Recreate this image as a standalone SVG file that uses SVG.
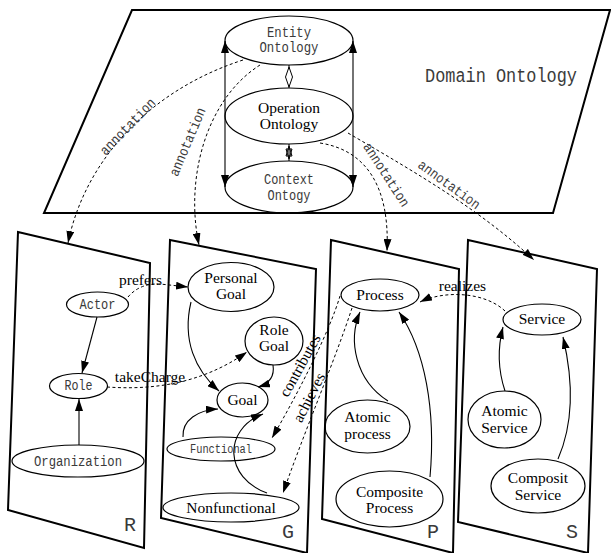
<svg xmlns="http://www.w3.org/2000/svg" width="611" height="553" viewBox="0 0 611 553">
<style>
.pl{fill:none;stroke:#000;stroke-width:2}
.n{fill:none;stroke:#000;stroke-width:1.2}
.e{fill:none;stroke:#000;stroke-width:1.1}
.d{fill:none;stroke:#000;stroke-width:1;stroke-dasharray:3,2.5}
.m{font-family:"Liberation Mono",monospace;fill:#3a3a3a;text-anchor:middle}
.t{font-family:"Liberation Serif","Times New Roman",serif;fill:#000;font-size:15.5px;text-anchor:middle}
</style>
<defs>
<marker id="ah" viewBox="0 0 12 8" refX="12" refY="4" markerWidth="12" markerHeight="8" markerUnits="userSpaceOnUse" orient="auto-start-reverse"><path d="M0,0L12,4L0,8z" fill="#000"/></marker>
</defs>

<g id="panels">
<polygon class="pl" points="132,10 610,10 553,213 44,213"/>
<polygon class="pl" points="18,232 150,263 144,548 8,510"/>
<polygon class="pl" points="170,240 316,269 307,553 161,518"/>
<polygon class="pl" points="331,240 459,269 453,553 322,519"/>
<polygon class="pl" points="468,240 597,269 588,553 458,522"/>
<text class="m" x="425" y="82" font-size="20" textLength="152" lengthAdjust="spacingAndGlyphs" style="text-anchor:start">Domain Ontology</text>
<text class="m" x="130" y="531" font-size="20">R</text>
<text class="m" x="288" y="538" font-size="20">G</text>
<text class="m" x="433" y="538" font-size="20">P</text>
<text class="m" x="572" y="538" font-size="20">S</text>
</g>

<g id="entity">
<ellipse class="n" cx="289" cy="40.5" rx="64" ry="24.5"/>
<text class="m" x="289" y="37" font-size="14" textLength="44" lengthAdjust="spacingAndGlyphs">Entity</text>
<text class="m" x="289" y="52" font-size="14" textLength="59" lengthAdjust="spacingAndGlyphs">Ontology</text>
</g>
<g id="operation">
<ellipse class="n" cx="289" cy="116" rx="64" ry="28"/>
<text class="t" x="289" y="113">Operation</text>
<text class="t" x="289" y="129">Ontology</text>
</g>
<g id="context">
<ellipse class="n" cx="289" cy="187" rx="64" ry="26"/>
<text class="m" x="289" y="184" font-size="14" textLength="50" lengthAdjust="spacingAndGlyphs">Context</text>
<text class="m" x="289" y="200" font-size="14" textLength="43" lengthAdjust="spacingAndGlyphs">Ontogy</text>
</g>

<g id="actor">
<ellipse class="n" cx="97.5" cy="304.5" rx="31" ry="12.5"/>
<text class="m" x="97.5" y="308.5" font-size="14" textLength="36" lengthAdjust="spacingAndGlyphs">Actor</text>
</g>
<g id="role">
<ellipse class="n" cx="78.5" cy="386" rx="29" ry="12.5"/>
<text class="m" x="78.5" y="390" font-size="14" textLength="28" lengthAdjust="spacingAndGlyphs">Role</text>
</g>
<g id="organization">
<ellipse class="n" cx="78" cy="461" rx="66" ry="16"/>
<text class="m" x="78" y="465.5" font-size="14" textLength="88" lengthAdjust="spacingAndGlyphs">Organization</text>
</g>

<g id="personalgoal">
<ellipse class="n" cx="231" cy="287" rx="43" ry="24.5"/>
<text class="t" x="231" y="283">Personal</text>
<text class="t" x="231" y="299">Goal</text>
</g>
<g id="rolegoal">
<ellipse class="n" cx="274" cy="341" rx="29" ry="24"/>
<text class="t" x="274" y="335">Role</text>
<text class="t" x="274" y="351">Goal</text>
</g>
<g id="goal">
<ellipse class="n" cx="242.5" cy="400" rx="25.5" ry="17"/>
<text class="t" x="242.5" y="405">Goal</text>
</g>
<g id="functional">
<ellipse class="n" cx="221" cy="449" rx="54" ry="12"/>
<text class="m" x="221" y="453" font-size="12" textLength="62" lengthAdjust="spacingAndGlyphs">Functional</text>
</g>
<g id="nonfunctional">
<ellipse class="n" cx="231" cy="507.5" rx="68" ry="14.5"/>
<text class="t" x="231" y="512.5">Nonfunctional</text>
</g>

<g id="process">
<ellipse class="n" cx="380" cy="295" rx="39" ry="16"/>
<text class="t" x="380" y="300">Process</text>
</g>
<g id="atomicprocess">
<ellipse class="n" cx="367.5" cy="426.5" rx="42.5" ry="26.5"/>
<text class="t" x="367.5" y="422">Atomic</text>
<text class="t" x="367.5" y="439">process</text>
</g>
<g id="compositeprocess">
<ellipse class="n" cx="389.5" cy="499" rx="53.5" ry="28"/>
<text class="t" x="389.5" y="497">Composite</text>
<text class="t" x="389.5" y="513">Process</text>
</g>

<g id="service">
<ellipse class="n" cx="542" cy="319.5" rx="39" ry="15.5"/>
<text class="t" x="542" y="324">Service</text>
</g>
<g id="atomicservice">
<ellipse class="n" cx="504.5" cy="419.5" rx="36.5" ry="28.5"/>
<text class="t" x="504.5" y="416">Atomic</text>
<text class="t" x="504.5" y="433">Service</text>
</g>
<g id="compositservice">
<ellipse class="n" cx="538" cy="486" rx="47" ry="27"/>
<text class="t" x="538" y="483">Composit</text>
<text class="t" x="538" y="500">Service</text>
</g>

<g id="connectors">
<path class="e" d="M225,41 L225,187" marker-start="url(#ah)" marker-end="url(#ah)"/>
<path class="e" d="M353,41 L353,187" marker-start="url(#ah)" marker-end="url(#ah)"/>
<line class="e" x1="289" y1="65" x2="289" y2="88"/>
<polygon points="289,67 292.5,77 289,87 285.5,77" fill="#fff" stroke="#000" stroke-width="1"/>
<line class="e" x1="289" y1="144" x2="289" y2="161"/>
<polygon points="289,146 292,156 286,156" fill="none" stroke="#000" stroke-width="1"/>
<polygon points="289,159 292,149 286,149" fill="none" stroke="#000" stroke-width="1"/>

<path class="d" d="M243,60 C150,90 85,160 68,243" marker-end="url(#ah)"/>
<path class="d" d="M260,65 C205,100 185,180 199,245" marker-end="url(#ah)"/>
<path class="d" d="M320,143 C365,150 390,185 387,251" marker-end="url(#ah)"/>
<path class="d" d="M348,133 C420,175 480,210 534,260" marker-end="url(#ah)"/>
<text class="m" font-size="14" textLength="73" lengthAdjust="spacingAndGlyphs" transform="translate(128,127) rotate(-46)" y="4">annotation</text>
<text class="m" font-size="14" textLength="73" lengthAdjust="spacingAndGlyphs" transform="translate(188,142) rotate(-67)" y="4">annotation</text>
<text class="m" font-size="14" textLength="73" lengthAdjust="spacingAndGlyphs" transform="translate(386,175) rotate(57)" y="4">annotation</text>
<text class="m" font-size="14" textLength="73" lengthAdjust="spacingAndGlyphs" transform="translate(449,185) rotate(36)" y="4">annotation</text>

<path class="e" d="M97,317 L82,373" marker-end="url(#ah)"/>
<path class="e" d="M79,445 L79,399" marker-end="url(#ah)"/>
<path class="d" d="M128,297 Q140,283 160,284 L188,287" marker-end="url(#ah)"/>
<text class="t" x="140.5" y="285">prefers</text>
<path class="d" d="M107,387 C150,390 200,385 247,352" marker-end="url(#ah)"/>
<text class="t" x="150" y="382">takeCharge</text>

<path class="e" d="M191,302 C182,340 195,370 219,391" marker-end="url(#ah)"/>
<path class="e" d="M273,365 C275,378 268,384 258,387" marker-end="url(#ah)"/>
<path class="e" d="M183,437 C182,420 198,410 218,409" marker-end="url(#ah)"/>
<path class="e" d="M267,493 C225,478 222,430 263,414" marker-end="url(#ah)"/>

<path class="d" d="M340,296 C330,330 300,390 272,438" marker-end="url(#ah)"/>
<text class="t" transform="translate(301,366) rotate(-61)" y="4">contributes</text>
<path class="d" d="M352,308 C335,360 305,430 283,493" marker-end="url(#ah)"/>
<text class="t" transform="translate(310,398) rotate(-63)" y="4">achieves</text>

<path class="e" d="M388,401 C355,380 348,340 360,312" marker-end="url(#ah)"/>
<path class="e" d="M430,477 C436,410 425,350 399,312" marker-end="url(#ah)"/>
<path class="e" d="M505,391 C498,370 497,350 503,327" marker-end="url(#ah)"/>
<path class="e" d="M558,459 C575,420 572,375 563,337" marker-end="url(#ah)"/>
<path class="d" d="M505,311 C485,292 445,290 420,302" marker-end="url(#ah)"/>
<text class="t" x="462.5" y="291">realizes</text>
</g>
</svg>
